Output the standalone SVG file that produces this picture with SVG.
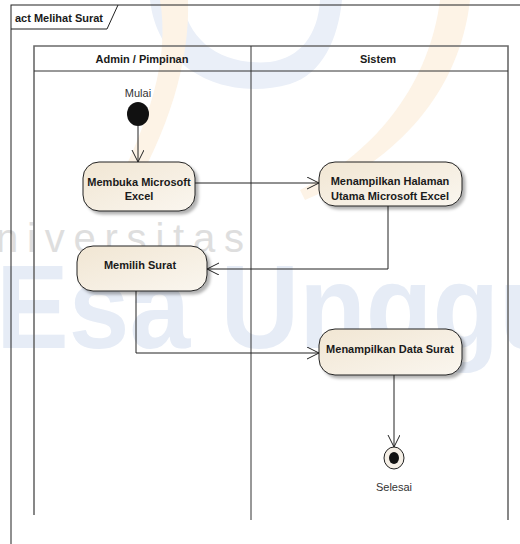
<svg xmlns="http://www.w3.org/2000/svg" width="520" height="544" viewBox="0 0 520 544">
<defs>
<style>
.frame{fill:none;stroke:#222;stroke-width:1}
.lane{fill:none;stroke:#6a6a6a;stroke-width:1.6}
.div{fill:none;stroke:#333;stroke-width:1}
.act{fill:url(#actfill);stroke:#222;stroke-width:1;filter:url(#shadow)}
.t{font-family:"Liberation Sans",Arial,sans-serif;font-size:11px;font-weight:bold;fill:#1a1a1a;text-anchor:middle}
.n{font-family:"Liberation Sans",Arial,sans-serif;font-size:11px;fill:#333;text-anchor:middle}
.c{fill:none;stroke:#222;stroke-width:1;marker-end:url(#open)}
.wm1{font-family:"Liberation Sans",Arial,sans-serif;font-size:40px;fill:#dedede}
.wm2{font-family:"Liberation Sans",Arial,sans-serif;font-size:118px;font-weight:bold;fill:#e6ecf6}
</style>
<linearGradient id="actfill" x1="0" y1="0" x2="1" y2="1">
<stop offset="0" stop-color="#f1e6d3"/>
<stop offset="1" stop-color="#faf6ef"/>
</linearGradient>
<filter id="shadow" x="-10%" y="-10%" width="130%" height="140%">
<feDropShadow dx="3" dy="3" stdDeviation="1.5" flood-color="#000" flood-opacity="0.3"/>
</filter>
<marker id="open" markerUnits="userSpaceOnUse" markerWidth="14" markerHeight="14" refX="12" refY="6" orient="auto">
<path d="M0,0 L12,6 L0,12" fill="none" stroke="#222" stroke-width="1"/>
</marker>
</defs>
<rect width="520" height="544" fill="#fff"/>
<g id="watermark">
<path d="M150,0 C158,70 225,102 290,84 C322,74 338,40 342,0 L320,0 C318,35 300,58 270,62 C220,66 188,40 182,0 Z" fill="#eaeff8"/>
<path d="M160,0 C170,60 150,120 110,200 L125,205 C170,130 190,60 188,0 Z" fill="#fdf3e6"/>
<path d="M440,0 C430,80 380,150 300,190 L305,200 C400,160 460,90 470,0 Z" fill="#fdf3e6"/>
<text class="wm1" x="-4" y="252" textLength="248" lengthAdjust="spacing">niversitas</text>
<text class="wm2" x="-4" y="348" textLength="600" lengthAdjust="spacingAndGlyphs">Esa Unggul</text>
</g>
<g id="frame">
<rect class="frame" x="11" y="5" width="530" height="560"/>
<path class="frame" d="M11,29 L107,29 L118,5"/>
<text class="t" x="15" y="22" style="text-anchor:start">act Melihat Surat</text>
</g>
<g id="lanes">
<path class="lane" d="M34,515 V46 H508 V520"/>
<path class="div" d="M34,71 H508 M251,46 V520"/>
<text class="t" x="142" y="63">Admin / Pimpinan</text>
<text class="t" x="378" y="63">Sistem</text>
</g>
<g id="connectors">
<path class="c" d="M138,126 L138,162"/>
<path class="c" d="M195,183 L319,183"/>
<path class="c" d="M388,206 L388,269 L207,269"/>
<path class="c" d="M136,291 L136,353 L319,353"/>
<path class="c" d="M394,375 L394,447"/>
</g>
<g id="start">
<text class="n" x="138" y="97">Mulai</text>
<ellipse cx="138" cy="114" rx="11" ry="12" fill="#111"/>
</g>
<g id="membuka">
<rect class="act" x="83" y="162" width="112" height="49" rx="16"/>
<text class="t" x="139" y="186">Membuka Microsoft</text>
<text class="t" x="139" y="200">Excel</text>
</g>
<g id="halaman">
<rect class="act" x="319" y="162" width="143" height="44" rx="16"/>
<text class="t" x="390" y="185">Menampilkan Halaman</text>
<text class="t" x="390" y="200">Utama Microsoft Excel</text>
</g>
<g id="memilih">
<rect class="act" x="77" y="246" width="130" height="45" rx="16"/>
<text class="t" x="140" y="269">Memilih Surat</text>
</g>
<g id="data">
<rect class="act" x="319" y="329" width="143" height="46" rx="16"/>
<text class="t" x="390" y="353">Menampilkan Data Surat</text>
</g>
<g id="end">
<ellipse cx="394" cy="458" rx="10" ry="11" fill="#f5efe6" stroke="#222" stroke-width="1"/>
<ellipse cx="394" cy="458" rx="5" ry="6" fill="#111"/>
<text class="n" x="394" y="491">Selesai</text>
</g>
</svg>
